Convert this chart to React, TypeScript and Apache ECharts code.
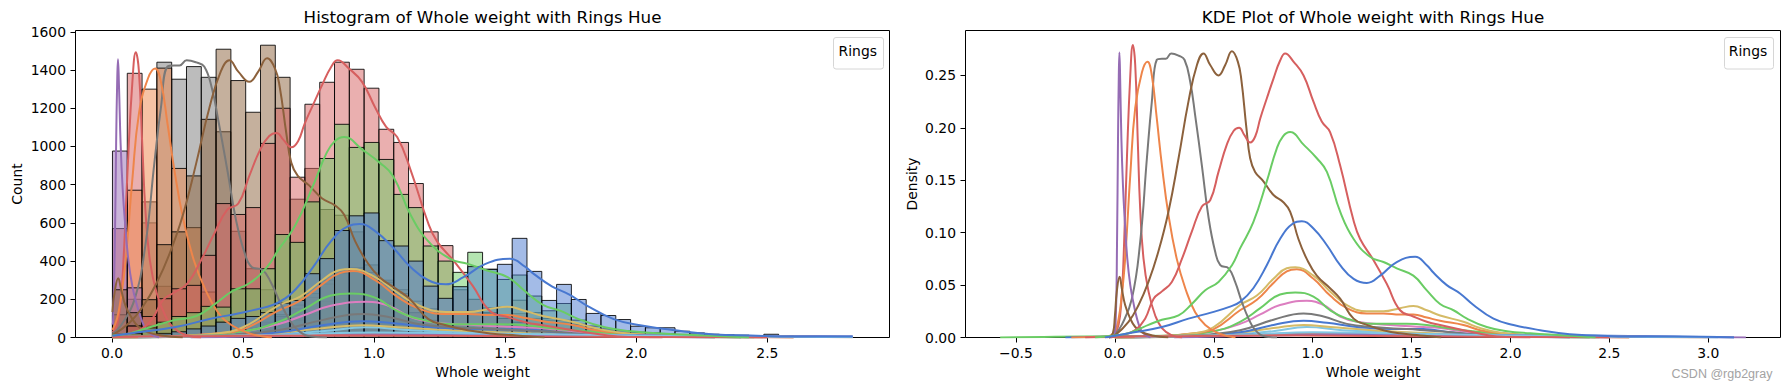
import React, { useEffect, useRef } from "react";
import * as echarts from "echarts";

// ---------- palette (seaborn "muted") ----------
const C_BLUE = "#4878d0";
const C_ORANGE = "#ee854a";
const C_GREEN = "#6acc64";
const C_RED = "#d65f5f";
const C_PURPLE = "#956cb4";
const C_BROWN = "#8c613c";
const C_PINK = "#dc7ec0";
const C_GRAY = "#797979";
const C_OLIVE = "#d5bb67";
const C_CYAN = "#82c6e2";

// ---------- histogram binning ----------
const BIN_MIN = 0.002;
const BIN_MAX = 2.8255;
const BIN_COUNT = 50;
const N_TOTAL = 94792;

// ---------- tick labels ----------
const histXTicks = [0, 0.5, 1.0, 1.5, 2.0, 2.5];
const histYTicks = [0, 200, 400, 600, 800, 1000, 1200, 1400, 1600];
const kdeXTicks = [-0.5, 0, 0.5, 1.0, 1.5, 2.0, 2.5, 3.0];
const kdeYTicks = [0, 0.05, 0.1, 0.15, 0.2, 0.25];

// ---------- histogram counts per hue group (index = bin) ----------
const histCyan = [0,0,0,0,0,0,0,0,0,0,0,0,20,30,40,48,52,55,50,42,35,30,26,24,22,20,18,16,12,10,8];
const histOlive2 = [0,0,0,0,0,0,0,0,0,0,0,0,25,40,52,62,68,65,55,45,40,35,30,28,26,25,24,22,18,14,10];
const histBlue2 = [0,0,0,0,0,0,0,0,0,0,10,20,35,50,65,80,88,85,75,65,55,48,45,42,42,42,42,40,35,28,22,16,12,8];
const histGray2 = [0,0,0,0,0,0,0,0,0,0,15,30,45,70,90,110,125,120,105,85,70,60,55,50,45,42,40,40,35,30,25,20,15,10,6];
const histPink = [0,0,0,0,0,0,0,0,0,20,40,60,90,120,150,175,185,190,170,130,100,80,70,65,60,55,55,55,50,45,35,30,20,15,10,6,4];
const histGreen2 = [0,0,0,0,0,0,0,0,0,20,40,60,90,130,190,220,235,215,180,130,100,80,70,70,70,68,70,65,60,55,45,35,25,18,12,8,5];
const histOrange2 = [0,0,0,0,0,0,0,0,0,40,70,110,150,210,280,335,350,320,270,220,160,130,125,130,120,125,120,125,100,90,80,65,45,30,20,12,8,5];
const histOlive1 = [0,0,0,0,0,0,0,0,0,50,80,120,170,230,300,350,365,340,300,250,190,150,135,130,140,155,160,195,130,100,90,70,45,35,25,18,12,8,5];
const histRed1 = [570,1383,600,268,60,12];
const histGray1 = [20,200,710,1441,1352,1418,1362,1077,556,360,250,110,40,10];
const histOrange1 = [119,771,1300,1410,885,575,238,84,30,10];
const histPurple1 = [976,260,40,6];
const histBrown0 = [250,130,60,25,10,5];
const histBrown1 = [10,60,198,486,553,846,1142,1509,1345,1179,1530,1362,724,885,670,640,553,380,290,230,130,90,55,35,20,10,5];
const histRed2 = [10,60,110,203,255,273,430,701,644,680,1016,1200,839,1221,1336,1441,1404,1305,1090,1021,806,553,481,250,200,130,100,80,55,40,25,18,10,6,4];
const histGreen1 = [5,20,50,80,110,130,163,159,255,255,360,539,498,710,937,1116,995,1021,932,749,680,479,400,341,446,357,304,327,217,140,178,91,60,45,35,28,25,20,15,10,6,4];
const histBlue1 = [2,5,10,20,30,45,60,80,100,110,130,180,194,334,413,560,637,652,507,479,400,269,205,266,371,357,383,519,346,194,278,199,126,115,94,59,51,51,33,24,17,14,12,10,17,9,5,4,3,3];

// ---------- KDE curves [Whole weight, density] ----------
const kdePurple1 = [[-0.03,0],[-0.008,0.001],[0.004,0.015],[0.011,0.09],[0.016,0.19],[0.02,0.25],[0.023,0.272],[0.027,0.245],[0.033,0.19],[0.041,0.145],[0.05,0.112],[0.063,0.075],[0.078,0.05],[0.094,0.033],[0.112,0.018],[0.13,0.008],[0.15,0.003],[0.18,0]];
const kdeBrown0 = [[-0.03,0],[-0.01,0.004],[0.0,0.02],[0.01,0.044],[0.024,0.058],[0.035,0.047],[0.052,0.031],[0.078,0.018],[0.103,0.01],[0.137,0.005],[0.19,0.002],[0.27,0]];
const kdeRed1 = [[-0.03,0],[0.0,0.004],[0.019,0.012],[0.033,0.035],[0.044,0.075],[0.061,0.171],[0.078,0.25],[0.091,0.279],[0.103,0.26],[0.116,0.187],[0.128,0.123],[0.145,0.075],[0.17,0.044],[0.204,0.021],[0.238,0.009],[0.288,0.002],[0.34,0]];
const kdeOrange1 = [[-0.04,0],[0.0,0.006],[0.019,0.018],[0.035,0.04],[0.052,0.075],[0.078,0.155],[0.103,0.219],[0.137,0.253],[0.165,0.263],[0.187,0.25],[0.212,0.209],[0.238,0.164],[0.271,0.117],[0.313,0.075],[0.356,0.047],[0.406,0.024],[0.457,0.012],[0.524,0.004],[0.61,0]];
const kdeGray1 = [[-0.03,0],[0.0,0.003],[0.035,0.012],[0.086,0.037],[0.128,0.091],[0.162,0.171],[0.187,0.225],[0.212,0.265],[0.238,0.266],[0.258,0.266],[0.285,0.271],[0.322,0.269],[0.352,0.265],[0.381,0.244],[0.406,0.212],[0.44,0.164],[0.474,0.114],[0.507,0.082],[0.533,0.069],[0.575,0.066],[0.608,0.053],[0.642,0.034],[0.676,0.018],[0.71,0.007],[0.76,0.001],[0.82,0]];
const kdeBrown1 = [[-0.03,0],[0.0,0.002],[0.069,0.015],[0.12,0.031],[0.17,0.053],[0.22,0.082],[0.271,0.12],[0.322,0.171],[0.372,0.225],[0.415,0.26],[0.448,0.271],[0.482,0.26],[0.524,0.25],[0.558,0.26],[0.592,0.273],[0.622,0.263],[0.64,0.245],[0.665,0.2],[0.684,0.171],[0.709,0.158],[0.751,0.149],[0.802,0.136],[0.852,0.129],[0.886,0.12],[0.928,0.094],[0.97,0.075],[1.021,0.059],[1.088,0.047],[1.139,0.037],[1.207,0.018],[1.274,0.012],[1.358,0.007],[1.442,0.004],[1.543,0.002],[1.65,0]];
const kdeRed2 = [[-0.02,0],[0.05,0.003],[0.103,0.007],[0.153,0.018],[0.196,0.037],[0.238,0.044],[0.288,0.053],[0.339,0.075],[0.389,0.101],[0.44,0.125],[0.482,0.131],[0.524,0.158],[0.566,0.184],[0.6,0.197],[0.628,0.2],[0.655,0.193],[0.684,0.186],[0.71,0.192],[0.735,0.209],[0.768,0.228],[0.802,0.247],[0.835,0.264],[0.861,0.271],[0.904,0.263],[0.954,0.25],[1.004,0.225],[1.046,0.206],[1.088,0.196],[1.139,0.164],[1.206,0.112],[1.24,0.094],[1.307,0.074],[1.375,0.051],[1.442,0.026],[1.509,0.02],[1.577,0.015],[1.644,0.012],[1.813,0.005],[1.93,0.001],[2.1,0]];
const kdeGreen1 = [[-0.1,0],[0.0,0.002],[0.069,0.004],[0.12,0.008],[0.17,0.012],[0.238,0.017],[0.322,0.021],[0.389,0.032],[0.457,0.045],[0.524,0.053],[0.592,0.069],[0.633,0.085],[0.7,0.11],[0.768,0.149],[0.818,0.18],[0.85,0.192],[0.886,0.196],[0.954,0.184],[1.021,0.171],[1.072,0.158],[1.139,0.12],[1.207,0.094],[1.29,0.077],[1.358,0.072],[1.425,0.066],[1.509,0.059],[1.577,0.045],[1.644,0.032],[1.712,0.026],[1.78,0.018],[1.88,0.01],[1.982,0.006],[2.1,0.004],[2.27,0.002],[2.43,0]];
const kdeBlue1 = [[-0.05,0],[0.069,0.004],[0.238,0.01],[0.372,0.018],[0.49,0.024],[0.575,0.029],[0.633,0.034],[0.7,0.047],[0.768,0.069],[0.835,0.094],[0.902,0.109],[0.945,0.111],[1.004,0.104],[1.072,0.088],[1.139,0.069],[1.207,0.056],[1.274,0.052],[1.341,0.059],[1.425,0.072],[1.518,0.077],[1.577,0.069],[1.61,0.062],[1.678,0.05],[1.745,0.042],[1.813,0.031],[1.914,0.018],[2.015,0.012],[2.15,0.007],[2.3,0.003],[2.43,0.002],[2.6,0.001],[2.83,0.001],[3.13,0]];
const kdeOlive1 = [[0.0,0],[0.2,0.001],[0.4,0.004],[0.5,0.01],[0.633,0.031],[0.718,0.04],[0.802,0.056],[0.869,0.066],[0.912,0.067],[1.004,0.059],[1.088,0.044],[1.173,0.031],[1.274,0.025],[1.358,0.025],[1.442,0.028],[1.509,0.03],[1.577,0.026],[1.644,0.021],[1.762,0.015],[1.846,0.009],[1.964,0.004],[2.1,0.002],[2.3,0.001],[2.6,0]];
const kdeOrange2 = [[0.0,0],[0.2,0.001],[0.4,0.004],[0.5,0.008],[0.633,0.026],[0.718,0.036],[0.802,0.052],[0.869,0.063],[0.92,0.065],[1.004,0.056],[1.088,0.04],[1.173,0.028],[1.274,0.023],[1.358,0.023],[1.442,0.022],[1.509,0.022],[1.577,0.019],[1.644,0.016],[1.762,0.012],[1.846,0.007],[1.964,0.004],[2.1,0.002],[2.3,0.001],[2.6,0]];
const kdeGreen2 = [[0.0,0],[0.3,0.002],[0.5,0.006],[0.633,0.015],[0.735,0.028],[0.835,0.041],[0.912,0.043],[1.004,0.039],[1.088,0.026],[1.173,0.018],[1.308,0.013],[1.476,0.013],[1.577,0.012],[1.644,0.01],[1.762,0.007],[1.93,0.004],[2.1,0.002],[2.4,0]];
const kdePink = [[0.0,0],[0.3,0.002],[0.5,0.006],[0.633,0.013],[0.735,0.022],[0.835,0.031],[0.97,0.035],[1.055,0.031],[1.139,0.02],[1.224,0.015],[1.392,0.012],[1.56,0.01],[1.644,0.009],[1.762,0.006],[1.93,0.003],[2.2,0.001],[2.6,0]];
const kdeGray2 = [[0.0,0],[0.4,0.002],[0.633,0.007],[0.802,0.017],[0.954,0.023],[1.055,0.02],[1.173,0.013],[1.308,0.01],[1.476,0.008],[1.644,0.006],[1.85,0.003],[2.2,0.001],[2.5,0]];
const kdeBlue2 = [[0.0,0],[0.4,0.002],[0.633,0.005],[0.802,0.012],[0.954,0.016],[1.072,0.014],[1.224,0.01],[1.392,0.008],[1.56,0.008],[1.7,0.005],[1.9,0.002],[2.3,0]];
const kdeOlive2 = [[0.0,0],[0.5,0.002],[0.802,0.009],[0.954,0.012],[1.09,0.01],[1.3,0.007],[1.6,0.004],[1.9,0.002],[2.3,0]];
const kdeCyan = [[0.0,0],[0.5,0.002],[0.8,0.006],[0.97,0.01],[1.15,0.007],[1.4,0.005],[1.65,0.003],[2.0,0.001],[2.4,0]];
const kdeTinyGreen = [[-0.58,0],[-0.3,0.0006],[0.0,0.0012],[0.5,0.002],[1.0,0.003],[1.5,0.002],[2.0,0.001],[2.45,0]];
const kdeTinyBlue = [[-0.25,0],[0.0,0.001],[0.5,0.002],[1.0,0.004],[1.5,0.003],[2.2,0.002],[2.8,0.001],[3.13,0]];
const kdeTinyOrange = [[-0.22,0],[0.0,0.0008],[0.6,0.002],[1.0,0.003],[1.6,0.002],[2.4,0.001],[3.0,0]];
const kdeTinyPurple = [[0.3,0],[0.8,0.002],[1.2,0.003],[1.8,0.002],[2.6,0.001],[3.19,0]];
const kdeTinyCyan = [[0.1,0],[0.7,0.003],[1.0,0.005],[1.4,0.004],[2.0,0.002],[2.7,0.0005],[3.05,0]];
const kdeTinyRed = [[-0.15,0],[0.2,0.001],[0.9,0.002],[1.6,0.001],[2.5,0]];

// groups in drawing order (bottom -> top)
const groups = [
  { color: C_CYAN, hist: histCyan, kde: kdeCyan },
  { color: C_OLIVE, hist: histOlive2, kde: kdeOlive2 },
  { color: C_BLUE, hist: histBlue2, kde: kdeBlue2 },
  { color: C_GRAY, hist: histGray2, kde: kdeGray2 },
  { color: C_PINK, hist: histPink, kde: kdePink },
  { color: C_GREEN, hist: histGreen2, kde: kdeGreen2 },
  { color: C_ORANGE, hist: histOrange2, kde: kdeOrange2 },
  { color: C_OLIVE, hist: histOlive1, kde: kdeOlive1 },
  { color: C_GREEN, hist: [], kde: kdeTinyGreen },
  { color: C_BLUE, hist: [], kde: kdeTinyBlue },
  { color: C_ORANGE, hist: [], kde: kdeTinyOrange },
  { color: C_PURPLE, hist: [], kde: kdeTinyPurple },
  { color: C_CYAN, hist: [], kde: kdeTinyCyan },
  { color: C_RED, hist: [], kde: kdeTinyRed },
  { color: C_RED, hist: histRed1, kde: kdeRed1 },
  { color: C_GRAY, hist: histGray1, kde: kdeGray1 },
  { color: C_ORANGE, hist: histOrange1, kde: kdeOrange1 },
  { color: C_PURPLE, hist: histPurple1, kde: kdePurple1 },
  { color: C_BROWN, hist: histBrown0, kde: kdeBrown0 },
  { color: C_BROWN, hist: histBrown1, kde: kdeBrown1 },
  { color: C_RED, hist: histRed2, kde: kdeRed2 },
  { color: C_GREEN, hist: histGreen1, kde: kdeGreen1 },
  { color: C_BLUE, hist: histBlue1, kde: kdeBlue1 },
];

const FONT = "DejaVu Sans";
const LINE_SMOOTH = 0.45;

function rgba(hex: string, a: number) {
  const n = parseInt(hex.slice(1), 16);
  return `rgba(${(n >> 16) & 255},${(n >> 8) & 255},${n & 255},${a})`;
}

function interp(pts: number[][], x: number) {
  if (x <= pts[0][0]) return pts[0][1];
  const last = pts[pts.length - 1];
  if (x >= last[0]) return last[1];
  for (let i = 1; i < pts.length; i++) {
    if (x <= pts[i][0]) {
      const [x0, y0] = pts[i - 1];
      const [x1, y1] = pts[i];
      return y0 + ((y1 - y0) * (x - x0)) / (x1 - x0);
    }
  }
  return last[1];
}

function clipCurve(pts: number[][], lo: number, hi: number) {
  const a = Math.max(lo, pts[0][0]);
  const b = Math.min(hi, pts[pts.length - 1][0]);
  const inner = pts.filter((p) => p[0] > a && p[0] < b);
  return [[a, interp(pts, a)], ...inner, [b, interp(pts, b)]];
}

function buildOption() {
  const binW = (BIN_MAX - BIN_MIN) / BIN_COUNT;
  const countScale = N_TOTAL * binW;
  const series: any[] = [];

  groups.forEach((g) => {
    const data = g.hist
      .map((c, i) => [BIN_MIN + i * binW, BIN_MIN + (i + 1) * binW, c])
      .filter((d) => d[2] > 0);
    if (!data.length) return;
    const fill = rgba(g.color, 0.5);
    series.push({
      type: "custom",
      xAxisIndex: 0,
      yAxisIndex: 0,
      silent: true,
      clip: true,
      z: 2,
      encode: { x: [0, 1], y: 2 },
      data,
      renderItem: (_p: any, api: any) => {
        const a = api.coord([api.value(0), api.value(2)]);
        const b = api.coord([api.value(1), 0]);
        return {
          type: "rect",
          shape: { x: a[0], y: a[1], width: b[0] - a[0], height: b[1] - a[1] },
          style: { fill, stroke: "rgba(0,0,0,0.85)", lineWidth: 1 },
        };
      },
    });
  });

  groups.forEach((g) => {
    const pts = clipCurve(g.kde, BIN_MIN, BIN_MAX).map((p) => [p[0], p[1] * countScale]);
    series.push({
      type: "line",
      xAxisIndex: 0,
      yAxisIndex: 0,
      data: pts,
      symbol: "none",
      smooth: LINE_SMOOTH,
      silent: true,
      z: 3,
      lineStyle: { color: g.color, width: 2 },
    });
  });

  groups.forEach((g) => {
    series.push({
      type: "line",
      xAxisIndex: 1,
      yAxisIndex: 1,
      data: g.kde,
      symbol: "none",
      smooth: LINE_SMOOTH,
      silent: true,
      z: 3,
      lineStyle: { color: g.color, width: 2 },
    });
  });

  const tickStyle = { color: "#000", fontSize: 13.9, fontFamily: FONT };
  const axisCommon = {
    type: "value",
    axisLine: { show: false, onZero: false },
    splitLine: { show: false },
    nameTextStyle: { color: "#000", fontSize: 13.9, fontFamily: FONT },
    nameLocation: "middle",
  };
  const fmt1 = (v: number) => (v < 0 ? "\u2212" : "") + Math.abs(v).toFixed(1);

  return {
    animation: false,
    backgroundColor: "#fff",
    textStyle: { fontFamily: FONT },
    title: [
      {
        text: "Histogram of Whole weight with Rings Hue",
        left: 482.5,
        top: 8,
        padding: 0,
        textAlign: "center",
        textStyle: { fontSize: 16.7, fontWeight: "normal", color: "#000", fontFamily: FONT },
      },
      {
        text: "KDE Plot of Whole weight with Rings Hue",
        left: 1373,
        top: 8,
        padding: 0,
        textAlign: "center",
        textStyle: { fontSize: 16.7, fontWeight: "normal", color: "#000", fontFamily: FONT },
      },
    ],
    grid: [
      { left: 75.5, top: 30.5, width: 814, height: 307, show: true, borderColor: "#000", borderWidth: 1, backgroundColor: "rgba(0,0,0,0)" },
      { left: 965.5, top: 30.5, width: 815, height: 307, show: true, borderColor: "#000", borderWidth: 1, backgroundColor: "rgba(0,0,0,0)" },
    ],
    xAxis: [
      {
        ...axisCommon,
        gridIndex: 0,
        min: -0.139,
        max: 2.966,
        name: "Whole weight",
        nameGap: 27,
        axisTick: { show: true, length: 5, lineStyle: { color: "#000" }, customValues: histXTicks },
        axisLabel: { ...tickStyle, margin: 8, customValues: histXTicks, formatter: fmt1 },
      },
      {
        ...axisCommon,
        gridIndex: 1,
        min: -0.755,
        max: 3.365,
        name: "Whole weight",
        nameGap: 27,
        axisTick: { show: true, length: 5, lineStyle: { color: "#000" }, customValues: kdeXTicks },
        axisLabel: { ...tickStyle, margin: 8, customValues: kdeXTicks, formatter: fmt1 },
      },
    ],
    yAxis: [
      {
        ...axisCommon,
        gridIndex: 0,
        min: 0,
        max: 1607,
        name: "Count",
        nameRotate: 90,
        nameGap: 52,
        axisTick: { show: true, length: 5, lineStyle: { color: "#000" }, customValues: histYTicks },
        axisLabel: { ...tickStyle, margin: 9.5, customValues: histYTicks, formatter: (v: number) => String(Math.round(v)) },
      },
      {
        ...axisCommon,
        gridIndex: 1,
        min: 0,
        max: 0.2929,
        name: "Density",
        nameRotate: 90,
        nameGap: 47,
        axisTick: { show: true, length: 5, lineStyle: { color: "#000" }, customValues: kdeYTicks },
        axisLabel: { ...tickStyle, margin: 9.5, customValues: kdeYTicks, formatter: (v: number) => v.toFixed(2) },
      },
    ],
    graphic: [
      {
        type: "rect",
        z: 100,
        shape: { x: 833.5, y: 37.5, width: 50, height: 31.5, r: 2.5 },
        style: { fill: "rgba(255,255,255,0.8)", stroke: "#d6d6d6", lineWidth: 1 },
      },
      {
        type: "text",
        z: 101,
        style: { text: "Rings", x: 857.8, y: 50.5, align: "center", verticalAlign: "middle", font: `13.9px "${FONT}"`, fill: "#000" },
      },
      {
        type: "rect",
        z: 100,
        shape: { x: 1724.5, y: 37.5, width: 49, height: 31.5, r: 2.5 },
        style: { fill: "rgba(255,255,255,0.8)", stroke: "#d6d6d6", lineWidth: 1 },
      },
      {
        type: "text",
        z: 101,
        style: { text: "Rings", x: 1748, y: 50.5, align: "center", verticalAlign: "middle", font: `13.9px "${FONT}"`, fill: "#000" },
      },
      {
        type: "text",
        z: 101,
        style: { text: "CSDN @rgb2gray", x: 1671.5, y: 373.5, align: "left", verticalAlign: "middle", font: `12.5px "Liberation Sans"`, fill: "#a3a3a3" },
      },
    ],
    series,
  };
}

export default function App() {
  const ref = useRef<HTMLDivElement>(null);
  useEffect(() => {
    if (!ref.current) return;
    const chart = echarts.init(ref.current, null, { renderer: "svg" });
    chart.setOption(buildOption() as any);
    return () => chart.dispose();
  }, []);
  return (
    <div
      ref={ref}
      style={{ position: "absolute", left: 0, top: 0, width: 1789, height: 390, background: "#fff" }}
    />
  );
}
